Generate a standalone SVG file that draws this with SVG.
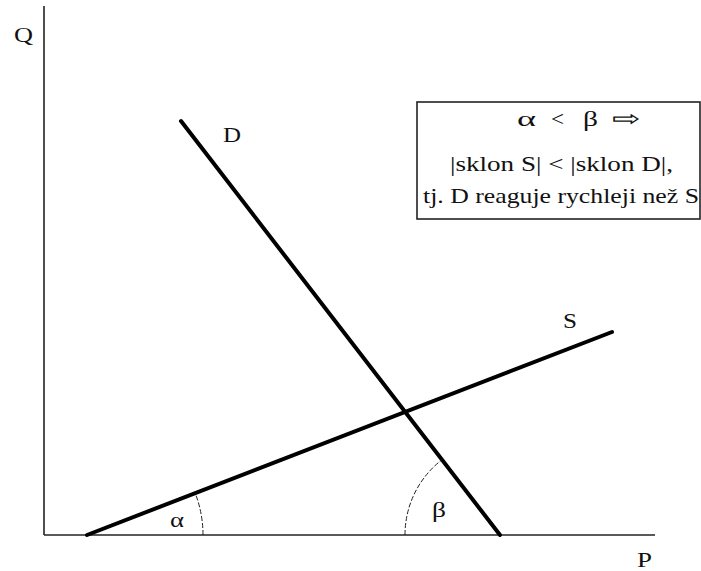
<svg xmlns="http://www.w3.org/2000/svg" width="701" height="571" viewBox="0 0 701 571">
<style>
.t{font-family:"Liberation Serif","Times New Roman",serif;fill:#111;font-size:22px}
.ax{stroke:#222;stroke-width:1.6;fill:none}
.ln{stroke:#000;stroke-width:4;fill:none;stroke-linecap:round}
.arc{stroke:#222;stroke-width:1;fill:none;stroke-dasharray:5 2}
</style>
<rect width="701" height="571" fill="#fff"/>
<g id="axes">
<line class="ax" x1="44" y1="6" x2="44" y2="535"/>
<line class="ax" x1="44" y1="535" x2="655" y2="535"/>
<text class="t" x="14" y="42" textLength="19" lengthAdjust="spacingAndGlyphs">Q</text>
<text class="t" x="637" y="567" textLength="15" lengthAdjust="spacingAndGlyphs">P</text>
</g>
<g id="connectors">
<line id="D-line" class="ln" x1="181" y1="121" x2="500" y2="535"/>
<line id="S-line" class="ln" x1="87" y1="535" x2="612" y2="332"/>
<path class="arc" d="M203,535 A116,116 0 0 0 195.2,493.2"/>
<path class="arc" d="M405,535 A95,95 0 0 1 442,459.7"/>
</g>
<g id="labels">
<text class="t" x="223" y="142" textLength="18" lengthAdjust="spacingAndGlyphs">D</text>
<text class="t" x="563" y="328" textLength="14" lengthAdjust="spacingAndGlyphs">S</text>
<text class="t" x="170" y="527" textLength="14" lengthAdjust="spacingAndGlyphs">α</text>
<text class="t" x="432" y="517" textLength="14" lengthAdjust="spacingAndGlyphs">β</text>
</g>
<g id="note">
<rect x="417" y="102" width="283" height="117" fill="#fff" stroke="#222" stroke-width="1.6"/>
<text class="t" x="517" y="126" textLength="19" lengthAdjust="spacingAndGlyphs">α</text>
<text class="t" x="551" y="126" textLength="13" lengthAdjust="spacingAndGlyphs">&lt;</text>
<text class="t" x="583" y="126" textLength="15" lengthAdjust="spacingAndGlyphs">β</text>
<text class="t" x="612" y="126" textLength="28" lengthAdjust="spacingAndGlyphs">⇨</text>
<text class="t" x="450" y="171" textLength="223" lengthAdjust="spacingAndGlyphs">|sklon S| &lt; |sklon D|,</text>
<text class="t" x="423" y="203" textLength="276" lengthAdjust="spacingAndGlyphs">tj. D reaguje rychleji než S</text>
</g>
</svg>
